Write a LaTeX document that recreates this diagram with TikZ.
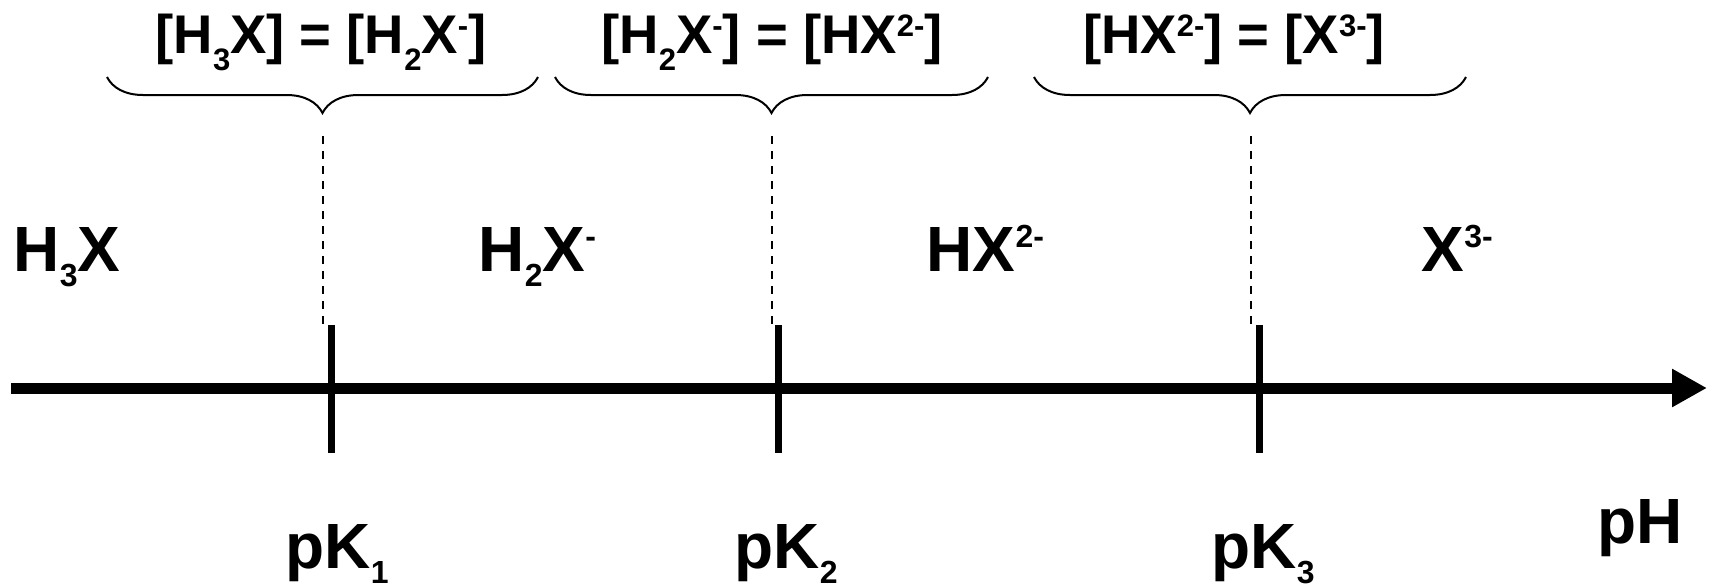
\documentclass[tikz,border=0pt]{standalone}
\usepackage{fontspec}
\usepackage{graphicx}
\setmainfont{Liberation Sans}
\usetikzlibrary{arrows.meta,positioning,decorations.pathreplacing}
\newcommand{\chlo}[1]{\raisebox{-0.24em}{\scalebox{0.5}{#1}}}
\newcommand{\chhi}[1]{\raisebox{0.36em}{\scalebox{0.5}{#1}}}
\newcommand{\eqlo}[1]{\raisebox{-0.33em}{\scalebox{0.57}{#1}}}
\newcommand{\eqhi}[1]{\raisebox{0.31em}{\scalebox{0.57}{#1}}}
\tikzset{
  species/.style={inner sep=0pt,font=\fontsize{18.2}{20}\selectfont\bfseries},
  equal/.style={inner sep=0pt,font=\fontsize{15.5}{18}\selectfont\bfseries},
  axis/.style={line width=1.1mm,-{Triangle[length=3.5mm,width=3.6mm]}},
  tickmark/.style={line width=0.7mm},
  guide/.style={line width=0.2mm,dash pattern=on 0.8mm off 0.7mm},
  halfway/.style={decorate,decoration={brace,mirror,amplitude=3.6mm},line width=0.2mm},
}
\begin{document}
\begin{tikzpicture}[x=0.1mm,y=-0.1mm]
  \useasboundingbox (0,0) rectangle (1712,585);
  % pH axis
  \coordinate (ax0) at (11,388);
  \coordinate (ax1) at (1707,388);
  \draw[axis] (ax0) -- (ax1);
  \node[species,anchor=base east] (ph) at (1683,543) {pH};
  % pK marks, guides and braces
  \foreach \n/\x/\d/\l/\r in {1/331/323/107/538,2/778/772/555/988,3/1259/1251/1034/1466}{
    \coordinate (tk\n top) at (\x,325);
    \coordinate (tk\n bot) at (\x,453);
    \draw[tickmark] (tk\n top) -- (tk\n bot);
    \coordinate (tip\n) at (\d,136);
    \coordinate (foot\n) at (\d,324);
    \draw[guide] (tip\n) -- (foot\n);
    \coordinate (br\n l) at (\l,77);
    \coordinate (br\n r) at (\r,77);
    \draw[halfway] (br\n l) -- (br\n r);
  }
  % species
  \node[species,anchor=base west] (h3x) at (13,271) {H\chlo{3}X};
  \node[species,anchor=base west] (h2x) at (478,271) {H\chlo{2}X\chhi{-}};
  \node[species,anchor=base west] (hx) at (926,271) {HX\chhi{2-}};
  \node[species,anchor=base west] (x3) at (1421,271) {X\chhi{3-}};
  % pK labels
  \node[species,anchor=base west] (lbl1) at (285,568) {pK\chlo{1}};
  \node[species,anchor=base west] (lbl2) at (734,568) {pK\chlo{2}};
  \node[species,anchor=base west] (lbl3) at (1211,568) {pK\chlo{3}};
  % equal concentrations
  \node[equal,anchor=base] (eq1) at (321,53) {[H\eqlo{3}X] = [H\eqlo{2}X\eqhi{-}]};
  \node[equal,anchor=base] (eq2) at (772,53) {[H\eqlo{2}X\eqhi{-}] = [HX\eqhi{2-}]};
  \node[equal,anchor=base] (eq3) at (1234,53) {[HX\eqhi{2-}] = [X\eqhi{3-}]};
\end{tikzpicture}
\end{document}
